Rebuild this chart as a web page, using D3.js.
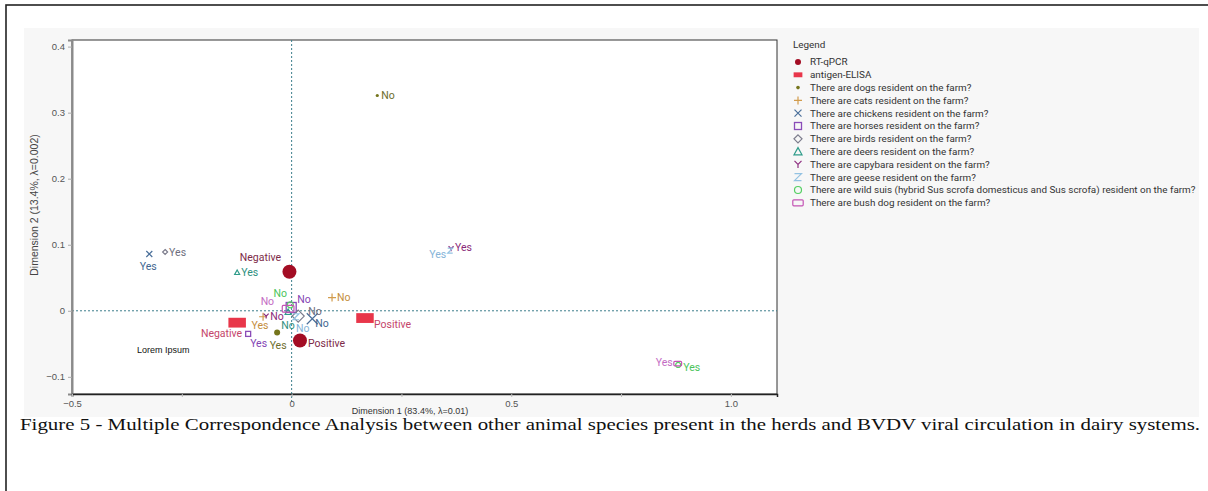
<!DOCTYPE html>
<html>
<head>
<meta charset="utf-8">
<script src="https://cdn.jsdelivr.net/npm/d3@7"></script>
<style>
  body { margin: 0; background: #fff; }
</style>
</head>
<body>
<svg id="chart" width="1208" height="491" font-family="Liberation Sans, Arial, sans-serif"></svg>
<script>
// legend entries (variables) and the shape each one uses
const variables = [
  "RT-qPCR",
  "antigen-ELISA",
  "There are dogs resident on the farm?",
  "There are cats resident on the farm?",
  "There are chickens resident on the farm?",
  "There are horses resident on the farm?",
  "There are birds resident on the farm?",
  "There are deers resident on the farm?",
  "There are capybara resident on the farm?",
  "There are geese resident on the farm?",
  "There are wild suis (hybrid Sus scrofa domesticus and Sus scrofa) resident on the farm?",
  "There are bush dog resident on the farm?"
]

// category points: [variable index, level, dim1, dim2]
const points = [
  [0, "Negative", -0.005, 0.059],
  [0, "Positive", 0.019, -0.045],
  [1, "Negative", -0.124, -0.018],
  [1, "Positive", 0.167, -0.011],
  [2, "No", 0.195, 0.326],
  [2, "Yes", -0.033, -0.033],
  [3, "No", 0.092, 0.020],
  [3, "Yes", -0.065, -0.009],
  [4, "Yes", -0.324, 0.086],
  [4, "No", 0.047, -0.012],
  [5, "Yes", -0.099, -0.035],
  [5, "No", -0.001, 0.005],
  [6, "Yes", -0.288, 0.089],
  [6, "No", 0.015, -0.008],
  [7, "Yes", -0.124, 0.058],
  [7, "No", -0.008, -0.002],
  [8, "Yes", 0.363, 0.094],
  [8, "No", -0.058, -0.008],
  [9, "Yes", 0.361, 0.091],
  [9, "No", 0.010, -0.009],
  [10, "Yes", 0.880, -0.082],
  [10, "No", -0.003, 0.009],
  [11, "Yes", 0.879, -0.080],
  [11, "No", -0.008, 0.003]
]

const xTicks = [-0.5, -0.25, 0, 0.25, 0.5, 0.75, 1.0]
const yTicks = [-0.1, 0, 0.1, 0.2, 0.3, 0.4]

// ---- styling (kept apart from the data) ----
const shapes = ["bigdot", "bar", "dot", "plus", "x", "square", "diamond", "triangle", "y", "z", "ring", "pill"]
const markColor = ["#a30d24", "#e8364a", "#75751c", "#d29c4c", "#4a6f9a", "#8a4cb8", "#7c7c8c", "#2f9c8a", "#8e2f80", "#93c2e2", "#54cf62", "#c454b4"]
const textColor = ["#7d2a48", "#c4456a", "#6d6d2c", "#c48e3c", "#3f6690", "#8444b4", "#6e6e7e", "#2f9080", "#8a2a7a", "#86b4d8", "#4cc45c", "#c46cc4"]
// marker half-size for each point (same order as points)
const markSize = [7, 7, 7, 7, 1.6, 3, 4, 4, 3, 5.5, 2.5, 5, 2.5, 6, 2.5, 3, 2.5, 2.5, 2.5, 3, 2.5, 3, 3, 4.5]
// label placement: [dx, dy, anchor] from the marker
const labelPos = [
  [-29, -14, "middle"], [8, 3, "start"],
  [5, 11, "end"], [9, 6, "start"],
  [4, 0, "start"], [1, 13, "middle"],
  [5, 0, "start"], [-3, 9, "middle"],
  [-1, 12, "middle"], [3, 5, "start"],
  [2, 9, "start"], [6, -8, "start"],
  [4, 0, "start"], [10, -5, "start"],
  [4, 0, "start"], [0, 13, "middle"],
  [4, -1, "start"], [4, 0, "start"],
  [-4, 4, "end"], [0, 12, "start"],
  [5, 2, "start"], [-10, -12, "middle"],
  [-5, -1, "end"], [-14, -7, "end"]
]

const svg = d3.select("#chart")

// outer frame + grey panel
svg.append("rect").attr("x", 6).attr("y", 5).attr("width", 1210).attr("height", 500)
  .attr("fill", "#fff").attr("stroke", "#222").attr("stroke-width", 1.6)
svg.append("rect").attr("x", 24).attr("y", 28).attr("width", 1175).attr("height", 389)
  .attr("fill", "#f7f7f7")

const plot = { left: 72, right: 777, top: 40, bottom: 394 }

const x = d3.scaleLinear().domain([-0.5, 1.105]).range([plot.left, plot.right])
const y = d3.scaleLinear().domain([-0.126, 0.41]).range([plot.bottom, plot.top])

svg.append("rect").attr("x", plot.left).attr("y", plot.top)
  .attr("width", plot.right - plot.left).attr("height", plot.bottom - plot.top)
  .attr("fill", "#fff").attr("stroke", "#333").attr("stroke-width", 1)

// zero reference lines
svg.append("line").attr("x1", x(0)).attr("x2", x(0)).attr("y1", plot.top).attr("y2", plot.bottom + 8)
  .attr("stroke", "#3c7e8c").attr("stroke-dasharray", "2,2")
svg.append("line").attr("x1", plot.left).attr("x2", plot.right).attr("y1", y(0)).attr("y2", y(0))
  .attr("stroke", "#3c7e8c").attr("stroke-dasharray", "2,2")

// axes
const axisLeft = d3.axisLeft(y).tickValues(yTicks).tickSize(4)
  .tickFormat(d => d === 0 ? "0" : d3.format(".1f")(d))
const axisBottom = d3.axisBottom(x).tickValues(xTicks).tickSize(3)
  .tickFormat(d => (Math.abs(d * 2 - Math.round(d * 2)) < 1e-9) ? (d === 0 ? "0" : d3.format(".1f")(d)) : "")

const gy = svg.append("g").attr("transform", `translate(${plot.left},0)`).call(axisLeft)
gy.select(".domain").attr("stroke", "#8a8a8a").attr("stroke-width", 2)
gy.selectAll(".tick line").attr("stroke", "#aaa")
gy.selectAll(".tick text").attr("fill", "#555").attr("font-size", 9.5).attr("font-family", "Liberation Sans, Arial")

const gx = svg.append("g").attr("transform", `translate(0,${plot.bottom})`).call(axisBottom)
gx.select(".domain").attr("stroke", "#222").attr("stroke-width", 1.5)
gx.selectAll(".tick line").attr("stroke", "#bbb")
gx.selectAll(".tick text").attr("fill", "#555").attr("font-size", 9.5).attr("dy", "0.7em").attr("font-family", "Liberation Sans, Arial")

// axis titles
svg.append("text").attr("x", 410).attr("y", 414).attr("text-anchor", "middle")
  .attr("font-size", 9).attr("fill", "#333").text("Dimension 1 (83.4%, \u03bb=0.01)")
svg.append("text").attr("transform", "translate(38,205) rotate(-90)").attr("text-anchor", "middle")
  .attr("font-size", 10.5).attr("fill", "#444").text("Dimension 2 (13.4%, \u03bb=0.002)")

// marker drawing
function drawShape(g, shape, s, color) {
  if (shape === "bigdot" || shape === "dot") {
    g.append("circle").attr("r", s).attr("fill", color)
  } else if (shape === "bar") {
    g.append("rect").attr("x", -s * 1.25).attr("y", -s * 0.7).attr("width", s * 2.5).attr("height", s * 1.4).attr("fill", color)
  } else if (shape === "square") {
    g.append("rect").attr("x", -s).attr("y", -s).attr("width", 2 * s).attr("height", 2 * s)
      .attr("fill", "none").attr("stroke", color).attr("stroke-width", 1.3)
  } else if (shape === "ring") {
    g.append("circle").attr("r", s).attr("fill", "none").attr("stroke", color).attr("stroke-width", 1.2)
  } else if (shape === "pill") {
    g.append("rect").attr("x", -s * 1.3).attr("y", -s * 0.75).attr("width", s * 2.6).attr("height", s * 1.5).attr("rx", 1)
      .attr("fill", "none").attr("stroke", color).attr("stroke-width", 1.2)
  } else {
    let p
    if (shape === "plus") p = `M${-s},0H${s}M0,${-s}V${s}`
    if (shape === "x") p = `M${-s},${-s}L${s},${s}M${-s},${s}L${s},${-s}`
    if (shape === "diamond") p = `M0,${-s}L${s},0L0,${s}L${-s},0Z`
    if (shape === "triangle") p = `M0,${-s}L${s},${s * 0.8}L${-s},${s * 0.8}Z`
    if (shape === "y") p = `M${-s},${-s}L0,0L${s},${-s}M0,0V${s}`
    if (shape === "z") p = `M${-s},${-s}H${s}L${-s},${s}H${s}`
    g.append("path").attr("d", p).attr("fill", "none").attr("stroke", color).attr("stroke-width", 1.2)
  }
}

// points
const marks = svg.append("g")
points.forEach((d, i) => {
  const g = marks.append("g").attr("transform", `translate(${x(d[2])},${y(d[3])})`)
  drawShape(g, shapes[d[0]], markSize[i], markColor[d[0]])
})

// point labels
const labels = svg.append("g").attr("font-family", "Roboto, 'Open Sans', sans-serif").attr("font-size", 10.5)
points.forEach((d, i) => {
  const lp = labelPos[i]
  labels.append("text")
    .attr("x", x(d[2]) + lp[0])
    .attr("y", y(d[3]) + lp[1])
    .attr("dy", "0.35em")
    .attr("text-anchor", lp[2])
    .attr("fill", textColor[d[0]])
    .text(d[1])
})

svg.append("text").attr("x", 137).attr("y", 353).attr("font-size", 9).attr("fill", "#111").text("Lorem Ipsum")

// legend
const legend = svg.append("g").attr("transform", "translate(793,45)")
  .attr("font-family", "Roboto, 'Open Sans', sans-serif").attr("font-size", 9.9)
legend.append("text").attr("x", 0).attr("y", 0).attr("dy", "0.35em").attr("fill", "#333").text("Legend")
const legendSize = [3, 3.5, 1.8, 4, 3.5, 3.5, 4, 4, 3.5, 3.5, 3.5, 4]
variables.forEach((v, i) => {
  const row = legend.append("g").attr("transform", `translate(0,${17 + i * 12.8})`)
  drawShape(row.append("g").attr("transform", "translate(5,0)"), shapes[i], legendSize[i], markColor[i])
  row.append("text").attr("x", 17).attr("dy", "0.35em").attr("fill", "#333").text(v)
})

// caption
svg.append("text").attr("x", 20).attr("y", 430)
  .style("font-family", "'Liberation Serif', 'Times New Roman', serif").style("font-size", "17px")
  .attr("fill", "#111").attr("textLength", 1180).attr("lengthAdjust", "spacingAndGlyphs")
  .text("Figure 5 - Multiple Correspondence Analysis between other animal species present in the herds and BVDV viral circulation in dairy systems.")
</script>
</body>
</html>
